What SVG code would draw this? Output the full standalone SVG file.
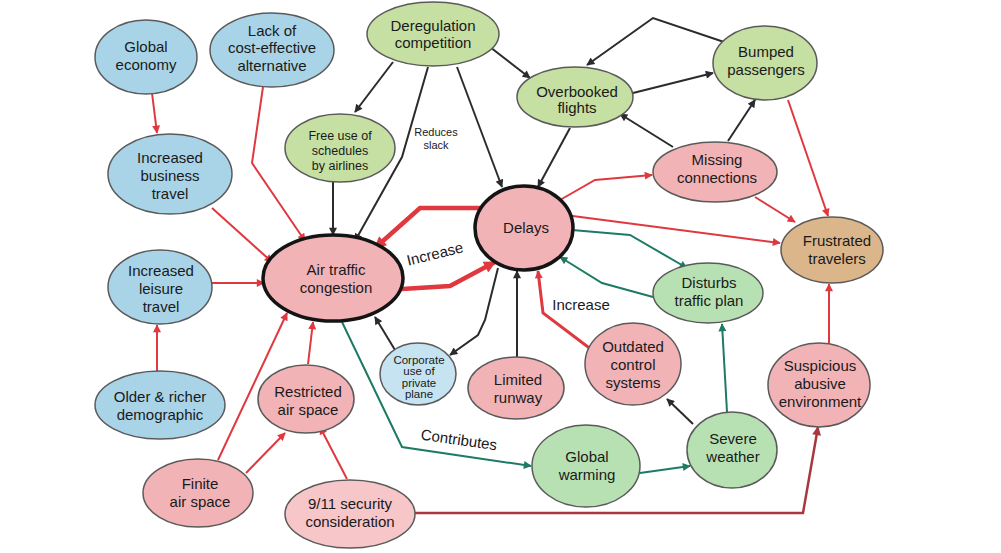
<svg xmlns="http://www.w3.org/2000/svg" width="1001" height="553" viewBox="0 0 1001 553">
<style>
text{font-family:"Liberation Sans",Arial,sans-serif;font-size:15px;fill:#1a1a1a;text-anchor:middle}
.sm{font-size:12.5px}
.xs{font-size:11.5px}
.lb{font-size:11px}
ellipse{stroke:#5a5a5a;stroke-width:1.5}
.big{stroke:#141414;stroke-width:3.5}
.blue{fill:#a9d4e8}
.lblue{fill:#c5e3f0}
.olive{fill:#c6dfa2}
.mint{fill:#b7e1b2}
.pink{fill:#f2b3b7}
.lpink{fill:#f7c6c9}
.tan{fill:#dbb68a}
#connectors path{fill:none}
.r{stroke:#e0383f;stroke-width:2;marker-end:url(#ar)}
.rt{stroke:#e0383f;stroke-width:4.5;marker-end:url(#arb)}
.rm{stroke:#e0383f;stroke-width:3;marker-end:url(#ar)}
.k{stroke:#2b2b2b;stroke-width:2;marker-end:url(#ak)}
.t{stroke:#1d7a65;stroke-width:2;marker-end:url(#at)}
.d{stroke:#a8383f;stroke-width:2.5;marker-end:url(#ad)}
</style>
<defs>
<marker id="ar" viewBox="0 0 10 10" refX="9" refY="5" markerWidth="10" markerHeight="8" markerUnits="userSpaceOnUse" orient="auto"><polygon points="0,0 10,5 0,10" fill="#e0383f"/></marker>
<marker id="arb" viewBox="0 0 10 10" refX="9" refY="5" markerWidth="15" markerHeight="12" markerUnits="userSpaceOnUse" orient="auto"><polygon points="0,0 10,5 0,10" fill="#e0383f"/></marker>
<marker id="ak" viewBox="0 0 10 10" refX="9" refY="5" markerWidth="10" markerHeight="8" markerUnits="userSpaceOnUse" orient="auto"><polygon points="0,0 10,5 0,10" fill="#2b2b2b"/></marker>
<marker id="at" viewBox="0 0 10 10" refX="9" refY="5" markerWidth="10" markerHeight="8" markerUnits="userSpaceOnUse" orient="auto"><polygon points="0,0 10,5 0,10" fill="#1d7a65"/></marker>
<marker id="ad" viewBox="0 0 10 10" refX="9" refY="5" markerWidth="11" markerHeight="9" markerUnits="userSpaceOnUse" orient="auto"><polygon points="0,0 10,5 0,10" fill="#a8383f"/></marker>
</defs>
<rect width="1001" height="553" fill="#ffffff"/>
<g id="connectors">
<path class="k" d="M393,62 L355,112"/>
<path class="k" d="M428,67 L402,157 L355,241"/>
<path class="k" d="M457,67 L502,187"/>
<path class="k" d="M490,47 L530,78"/>
<path class="k" d="M727,43 L653,18 L587,65"/>
<path class="k" d="M633,93 L713,73"/>
<path class="k" d="M673,147 L620,114"/>
<path class="k" d="M728,141 L755,100"/>
<path class="k" d="M570,128 L538,187"/>
<path class="k" d="M333,182 L333,235"/>
<path class="k" d="M498,268 L485,320 L478,335 L450,355"/>
<path class="k" d="M395,350 L375,317"/>
<path class="k" d="M517,357 L517,271"/>
<path class="k" d="M693,424 L667,399"/>
<path class="r" d="M152,93 L157,133"/>
<path class="r" d="M263,87 L252,163 L305,241"/>
<path class="r" d="M212,208 L272,262"/>
<path class="r" d="M212,283 L264,283"/>
<path class="r" d="M157,372 L157,325"/>
<path class="r" d="M218,460 L287,313"/>
<path class="r" d="M308,364 L313,322"/>
<path class="r" d="M246,473 L285,433"/>
<path class="r" d="M347,479 L320,427"/>
<path class="d" d="M415,513 L803,513 L818,427"/>
<path class="rt" d="M402,289 L450,286 L495,262"/>
<path class="rt" d="M482,208 L420,208 L375,248"/>
<path class="r" d="M560,200 L595,180 L652,175"/>
<path class="r" d="M565,215 L780,243"/>
<path class="r" d="M755,197 L795,222"/>
<path class="r" d="M788,100 L828,216"/>
<path class="r" d="M829,343 L829,284"/>
<path class="rm" d="M592,350 L543,313 L538,271"/>
<path class="t" d="M572,230 L630,235 L687,268"/>
<path class="t" d="M653,297 L602,283 L560,257"/>
<path class="t" d="M727,412 L722,324"/>
<path class="t" d="M640,473 L690,466"/>
<path class="t" d="M342,322 L402,447 L531,466"/>
<text class="lb" x="436" y="136">Reduces</text>
<text class="lb" x="436" y="149">slack</text>
<text x="435" y="259" transform="rotate(-14 435 254)">Increase</text>
<text x="581" y="310">Increase</text>
<text x="459" y="445" transform="rotate(8 459 440)">Contributes</text>
</g>
<g id="global-economy"><ellipse class="blue" cx="146" cy="57" rx="51" ry="37"/><text x="146" y="52">Global</text><text x="146" y="70">economy</text></g>
<g id="lack-alternative"><ellipse class="blue" cx="272" cy="50" rx="62" ry="37"/><text x="272" y="36">Lack of</text><text x="272" y="53">cost-effective</text><text x="272" y="71">alternative</text></g>
<g id="deregulation"><ellipse class="olive" cx="433" cy="34" rx="66" ry="32"/><text x="433" y="31">Deregulation</text><text x="433" y="48">competition</text></g>
<g id="business-travel"><ellipse class="blue" cx="170" cy="174" rx="62" ry="40"/><text x="170" y="163">Increased</text><text x="170" y="181">business</text><text x="170" y="199">travel</text></g>
<g id="free-use"><ellipse class="olive" cx="340" cy="148" rx="55" ry="34"/><text class="sm" x="340" y="140">Free use of</text><text class="sm" x="340" y="155">schedules</text><text class="sm" x="340" y="170">by airlines</text></g>
<g id="overbooked"><ellipse class="olive" cx="575" cy="97" rx="58" ry="30"/><text x="577" y="97">Overbooked</text><text x="577" y="113">flights</text></g>
<g id="bumped"><ellipse class="olive" cx="765" cy="63" rx="52" ry="37"/><text x="766" y="57">Bumped</text><text x="766" y="75">passengers</text></g>
<g id="missing"><ellipse class="pink" cx="715" cy="172" rx="62" ry="30"/><text x="717" y="165">Missing</text><text x="717" y="183">connections</text></g>
<g id="delays"><ellipse class="pink big" cx="524" cy="228" rx="49" ry="42"/><text x="526" y="233">Delays</text></g>
<g id="congestion"><ellipse class="pink big" cx="333" cy="278" rx="70" ry="43"/><text x="336" y="275">Air traffic</text><text x="336" y="293">congestion</text></g>
<g id="frustrated"><ellipse class="tan" cx="832" cy="250" rx="51" ry="33"/><text x="837" y="246">Frustrated</text><text x="837" y="264">travelers</text></g>
<g id="leisure-travel"><ellipse class="blue" cx="160" cy="287" rx="52" ry="37"/><text x="161" y="276">Increased</text><text x="161" y="294">leisure</text><text x="161" y="312">travel</text></g>
<g id="disturbs"><ellipse class="mint" cx="708" cy="293" rx="55" ry="30"/><text x="709" y="288">Disturbs</text><text x="709" y="306">traffic plan</text></g>
<g id="corporate"><ellipse class="lblue" cx="418" cy="374" rx="38" ry="31"/><text class="xs" x="419" y="364">Corporate</text><text class="xs" x="419" y="375">use of</text><text class="xs" x="419" y="387">private</text><text class="xs" x="419" y="398">plane</text></g>
<g id="limited-runway"><ellipse class="pink" cx="516" cy="388" rx="48" ry="31"/><text x="518" y="385">Limited</text><text x="518" y="403">runway</text></g>
<g id="outdated"><ellipse class="pink" cx="633" cy="364" rx="48" ry="41"/><text x="633" y="352">Outdated</text><text x="633" y="370">control</text><text x="633" y="388">systems</text></g>
<g id="suspicious"><ellipse class="pink" cx="819" cy="385" rx="51" ry="42"/><text x="820" y="371">Suspicious</text><text x="820" y="389">abusive</text><text x="820" y="407">environment</text></g>
<g id="severe-weather"><ellipse class="mint" cx="732" cy="450" rx="45" ry="38"/><text x="733" y="444">Severe</text><text x="733" y="462">weather</text></g>
<g id="global-warming"><ellipse class="mint" cx="586" cy="466" rx="54" ry="41"/><text x="587" y="462">Global</text><text x="587" y="480">warming</text></g>
<g id="older-richer"><ellipse class="blue" cx="160" cy="405" rx="65" ry="34"/><text x="160" y="402">Older &amp; richer</text><text x="160" y="420">demographic</text></g>
<g id="restricted"><ellipse class="pink" cx="306" cy="399" rx="48" ry="34"/><text x="308" y="397">Restricted</text><text x="308" y="415">air space</text></g>
<g id="finite"><ellipse class="pink" cx="198" cy="493" rx="55" ry="34"/><text x="200" y="489">Finite</text><text x="200" y="507">air space</text></g>
<g id="security"><ellipse class="lpink" cx="350" cy="514" rx="65" ry="34"/><text x="350" y="509">9/11 security</text><text x="350" y="527">consideration</text></g>
</svg>
